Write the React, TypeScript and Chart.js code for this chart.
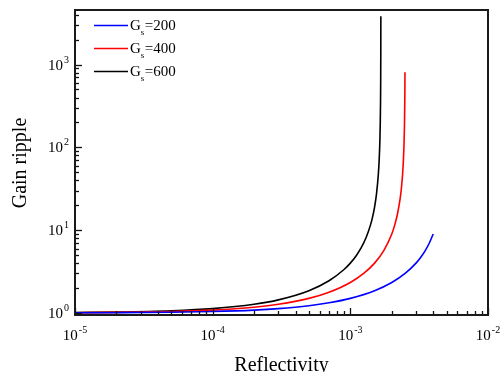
import React, { useEffect, useRef } from "react";
import { Chart, registerables } from "chart.js";

Chart.register(...registerables);

// ---- axis ranges and tick labels ----
const X_MIN = 1e-5;
const X_MAX = 1e-2;
const Y_MIN = 0.945;
const Y_MAX = 4560;
const X_MAJOR = [1e-5, 1e-4, 1e-3, 1e-2];
const X_MAJOR_EXP = ["-5", "-4", "-3", "-2"];
const Y_MAJOR = [1, 10, 100, 1000];
const Y_MAJOR_EXP = ["0", "1", "2", "3"];
const MINOR_MULT = [2, 3, 4, 5, 6, 7, 8, 9];

const X_TITLE = "Reflectivity";
const Y_TITLE = "Gain ripple";

// ---- series ----
const SERIES_GS = [200, 400, 600];
const SERIES_COLORS = ["#0000ff", "#ff0000", "#000000"];

const R_200 = [1e-5, 2e-5, 5e-5, 1e-4, 2e-4, 3e-4, 5e-4, 7e-4, 1e-3, 1.5e-3, 2e-3, 2.5e-3, 3e-3, 3.25e-3, 3.5e-3, 3.75e-3, 4e-3];
const GAIN_200 = [1.004, 1.008, 1.02, 1.041, 1.083, 1.128, 1.222, 1.326, 1.5, 1.857, 2.333, 3.0, 4.0, 4.714, 5.667, 7.0, 9.0];

const R_400 = [1e-5, 2e-5, 5e-5, 1e-4, 2e-4, 3e-4, 5e-4, 7e-4, 1e-3, 1.25e-3, 1.5e-3, 1.75e-3, 2e-3, 2.1e-3, 2.2e-3, 2.3e-3, 2.35e-3, 2.4e-3, 2.43e-3, 2.45e-3, 2.465e-3, 2.475e-3, 2.485e-3, 2.49e-3, 2.4938e-3];
const GAIN_400 = [1.008, 1.016, 1.041, 1.083, 1.174, 1.273, 1.5, 1.778, 2.333, 3.0, 4.0, 5.667, 9.0, 11.5, 15.67, 24, 32.33, 49, 70.4, 99, 141.9, 199, 332.3, 499, 805];

const R_600 = [1e-5, 2e-5, 5e-5, 1e-4, 2e-4, 3e-4, 5e-4, 7e-4, 9e-4, 1e-3, 1.1e-3, 1.2e-3, 1.3e-3, 1.4e-3, 1.45e-3, 1.5e-3, 1.55e-3, 1.6e-3, 1.62e-3, 1.64e-3, 1.65e-3, 1.657e-3, 1.661e-3, 1.664e-3, 1.6655e-3, 1.6658e-3];
const GAIN_600 = [1.012, 1.024, 1.062, 1.128, 1.273, 1.439, 1.857, 2.448, 3.348, 4.0, 4.882, 6.143, 8.091, 11.5, 14.38, 19, 27.57, 49, 70.4, 124, 199, 343.8, 587.2, 1249, 2856, 3845];

const SERIES_R = [R_200, R_400, R_600];
const SERIES_GAIN = [GAIN_200, GAIN_400, GAIN_600];

const FONT = "'Liberation Serif', 'Times New Roman', serif";

function drawPow(ctx: CanvasRenderingContext2D, exp: string, x: number, y: number, align: "center" | "right") {
  ctx.font = `15px ${FONT}`;
  const wb = ctx.measureText("10").width;
  ctx.font = `10px ${FONT}`;
  const we = ctx.measureText(exp).width;
  const total = wb + 1 + we;
  const x0 = align === "center" ? x - total / 2 : x - total;
  ctx.textAlign = "left";
  ctx.textBaseline = "alphabetic";
  ctx.font = `15px ${FONT}`;
  ctx.fillText("10", x0, y);
  ctx.font = `10px ${FONT}`;
  ctx.fillText(exp, x0 + wb + 1, y - 7);
}

const decorPlugin = {
  id: "decor",
  afterDraw(chart: any) {
    const ctx: CanvasRenderingContext2D = chart.ctx;
    const { left, right, top, bottom } = chart.chartArea;
    const xs = chart.scales.x;
    const ys = chart.scales.y;
    ctx.save();
    ctx.fillStyle = "#000";
    ctx.strokeStyle = "#111";

    // ticks (inward)
    ctx.lineWidth = 1.3;
    const xTicks: [number, number][] = [];
    X_MAJOR.forEach((v) => {
      xTicks.push([v, 7]);
      MINOR_MULT.forEach((m) => xTicks.push([v * m, 4]));
    });
    xTicks.forEach(([v, len]) => {
      if (v < X_MIN * 0.999 || v > X_MAX * 1.001) return;
      const px = Math.round(xs.getPixelForValue(v)) + 0.5;
      ctx.beginPath();
      ctx.moveTo(px, bottom);
      ctx.lineTo(px, bottom - len);
      ctx.stroke();
    });
    const yTicks: [number, number][] = [];
    Y_MAJOR.forEach((v) => {
      yTicks.push([v, 7]);
      MINOR_MULT.forEach((m) => yTicks.push([v * m, 4]));
    });
    yTicks.forEach(([v, len]) => {
      if (v < Y_MIN || v > Y_MAX) return;
      const py = Math.round(ys.getPixelForValue(v)) + 0.5;
      ctx.beginPath();
      ctx.moveTo(left, py);
      ctx.lineTo(left + len, py);
      ctx.stroke();
    });

    // frame
    ctx.lineWidth = 2;
    ctx.strokeStyle = "#1a1a1a";
    ctx.strokeRect(left, top, right - left, bottom - top);

    // tick labels
    ctx.fillStyle = "#000";
    X_MAJOR.forEach((v, i) => {
      drawPow(ctx, X_MAJOR_EXP[i], xs.getPixelForValue(v), bottom + 25, "center");
    });
    Y_MAJOR.forEach((v, i) => {
      drawPow(ctx, Y_MAJOR_EXP[i], left - 6, ys.getPixelForValue(v) + 5, "right");
    });

    // axis titles
    ctx.font = `20px ${FONT}`;
    ctx.textAlign = "center";
    ctx.textBaseline = "alphabetic";
    ctx.fillText(X_TITLE, (left + right) / 2, 371);
    ctx.save();
    ctx.translate(26, 163);
    ctx.rotate(-Math.PI / 2);
    ctx.fillText(Y_TITLE, 0, 0);
    ctx.restore();

    // legend
    chart.data.datasets.forEach((ds: any, i: number) => {
      const y = 25 + i * 23;
      ctx.strokeStyle = ds.borderColor;
      ctx.lineWidth = 1.6;
      ctx.beginPath();
      ctx.moveTo(94, y + 0.5);
      ctx.lineTo(128, y + 0.5);
      ctx.stroke();
      ctx.fillStyle = "#000";
      ctx.textAlign = "left";
      ctx.font = `15px ${FONT}`;
      ctx.fillText("G", 130, y + 5);
      const wg = ctx.measureText("G").width;
      ctx.font = `9px ${FONT}`;
      ctx.fillText("s", 130 + wg, y + 10);
      ctx.font = `15px ${FONT}`;
      ctx.fillText("=" + SERIES_GS[i], 130 + wg + 4, y + 5);
    });
    ctx.restore();
  },
};

export default function App() {
  const ref = useRef<HTMLCanvasElement>(null);
  useEffect(() => {
    document.body.style.margin = "0";
    const datasets = SERIES_GS.map((g, i) => ({
      label: `Gs=${g}`,
      data: SERIES_R[i].map((r, j) => ({ x: r, y: SERIES_GAIN[i][j] })),
      borderColor: SERIES_COLORS[i],
      backgroundColor: SERIES_COLORS[i],
      borderWidth: 1.6,
      pointRadius: 0,
      cubicInterpolationMode: "monotone" as const,
      fill: false,
    }));
    const chart = new Chart(ref.current!, {
      type: "line",
      data: { datasets },
      options: {
        animation: false,
        responsive: false,
        devicePixelRatio: 1,
        layout: { padding: { top: 10, right: 14, left: 0, bottom: 0 } },
        plugins: { legend: { display: false }, tooltip: { enabled: false } },
        scales: {
          x: {
            type: "logarithmic",
            min: X_MIN,
            max: X_MAX,
            ticks: { display: false },
            grid: { display: false },
            border: { display: false },
            afterFit: (s: any) => {
              s.height = 57;
            },
          },
          y: {
            type: "logarithmic",
            min: Y_MIN,
            max: Y_MAX,
            ticks: { display: false },
            grid: { display: false },
            border: { display: false },
            afterFit: (s: any) => {
              s.width = 75;
            },
          },
        },
      },
      plugins: [decorPlugin],
    });
    return () => chart.destroy();
  }, []);
  return (
    <div style={{ position: "fixed", left: 0, top: 0, width: 502, height: 372, background: "#fff" }}>
      <canvas ref={ref} width={502} height={372} />
    </div>
  );
}
